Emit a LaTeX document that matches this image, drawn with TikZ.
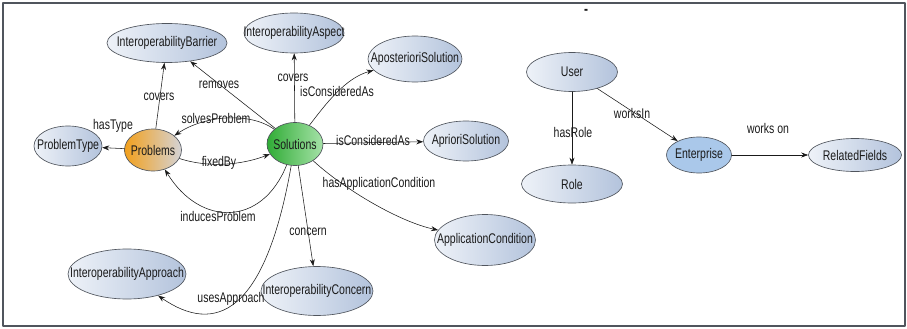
\documentclass[tikz,border=0pt]{standalone}
\usepackage{fontspec}
\setmainfont[FakeStretch=0.75]{Liberation Sans}
\usetikzlibrary{shapes.geometric,arrows.meta}

\definecolor{rim}{HTML}{50555D}
\definecolor{clsleft}{HTML}{EEF2F8}
\definecolor{clsright}{HTML}{B3C3DC}
\definecolor{probleft}{HTML}{F2A01C}
\definecolor{probright}{HTML}{D4D3D6}
\definecolor{solleft}{HTML}{30AC36}
\definecolor{solright}{HTML}{A6E2A8}
\definecolor{entfill}{HTML}{AAC8EA}
\definecolor{ink}{HTML}{1A1A1A}

\begin{document}
\begin{tikzpicture}[line join = round, line cap = round,>={Stealth[length=7pt,width=5pt]},x=1pt,y=-1pt,
    font=\fontsize{14}{16}\selectfont,
    oval/.style={ellipse,draw=rim,line width=0.65pt,inner sep=0pt,text=ink,
        execute at begin node=\hbox to 0pt\bgroup\hss,
        execute at end node=\hss\egroup},
    concept/.style={oval,left color=clsleft,right color=clsright},
    problem/.style={oval,left color=probleft,right color=probright},
    solution/.style={oval,left color=solleft,right color=solright},
    company/.style={oval,fill=entfill},
    rel/.style={->,draw=ink,line width=0.55pt},
    lbl/.style={inner sep=1pt,text=ink}]
  \useasboundingbox (0,0) rectangle (907,329);
  \draw[rim,line width=1.3pt] (3,3) rectangle (905,326);

  % problems and solutions
  \node[concept,minimum width=120,minimum height=39] (barrier) at (167,43) {InteroperabilityBarrier};
  \node[concept,minimum width=100,minimum height=40] (aspect) at (294,33) {InteroperabilityAspect};
  \node[concept,minimum width=94,minimum height=46] (apost) at (415,59) {AposterioriSolution};
  \node[concept,minimum width=85,minimum height=40] (aprio) at (466,141) {AprioriSolution};
  \node[concept,minimum width=68,minimum height=40] (ptype) at (68,146) {ProblemType};
  \node[problem,minimum width=57,minimum height=42] (prob) at (153,150) {Problems};
  \node[solution,minimum width=56,minimum height=43] (sol) at (295,144) {Solutions};
  \node[concept,minimum width=101,minimum height=51] (appcond) at (485,240) {ApplicationCondition};
  \node[concept,minimum width=112,minimum height=49] (concern) at (317,291) {InteroperabilityConcern};
  \node[concept,minimum width=118,minimum height=50] (approach) at (127,274) {InteroperabilityApproach};

  % users and enterprises
  \node[concept,minimum width=91,minimum height=39] (user) at (572,72) {User};
  \node[concept,minimum width=101,minimum height=38] (role) at (572,184) {Role};
  \node[company,minimum width=65,minimum height=36] (enterprise) at (699,155) {Enterprise};
  \node[concept,minimum width=93,minimum height=33] (fields) at (855,155) {RelatedFields};
  \node[lbl,font=\fontsize{16}{18}\bfseries] (dash) at (586,12) {-};

  \draw[rel] (prob) -- (ptype);
  \draw[rel] (prob) -- (barrier);
  \draw[rel] (sol) -- (barrier);
  \draw[rel] (sol) -- (aspect);
  \draw[rel] (sol) .. controls (325,105) and (345,78) .. (apost);
  \draw[rel] (sol) -- (aprio);
  \draw[rel] (sol) .. controls (250,112) and (205,115) .. (prob);
  \draw[rel] (prob) .. controls (215,170) and (250,162) .. (sol);
  \draw[rel] (sol) .. controls (262,227) and (200,227) .. (prob);
  \draw[rel] (sol) .. controls (265,315) and (215,335) .. (approach);
  \draw[rel] (sol) -- (concern);
  \draw[rel] (sol) .. controls (345,190) and (400,222) .. (appcond);
  \draw[rel] (user) -- (role);
  \draw[rel] (user) -- (enterprise);
  \draw[rel] (enterprise) -- (fields);

  \node[lbl] (lcovbar) at (159,97) {covers};
  \node[lbl] (lremove) at (219,85) {removes};
  \node[lbl] (lcovasp) at (293,78) {covers};
  \node[lbl] (lpost) at (337,91) {isConsideredAs};
  \node[lbl] (ltype) at (113,126) {hasType};
  \node[lbl] (lsolve) at (216,118) {solvesProblem};
  \node[lbl] (lfix) at (219,163) {fixedBy};
  \node[lbl] (lprio) at (373,140) {isConsideredAs};
  \node[lbl] (lcond) at (379,184) {hasApplicationCondition};
  \node[lbl] (linduce) at (218,216) {inducesProblem};
  \node[lbl] (lconcern) at (308,232) {concern};
  \node[lbl] (luse) at (231,299) {usesApproach};
  \node[lbl] (lrole) at (573,132) {hasRole};
  \node[lbl] (lwork) at (632,113) {worksIn};
  \node[lbl] (lon) at (768,128) {works on};
\end{tikzpicture}
\end{document}
